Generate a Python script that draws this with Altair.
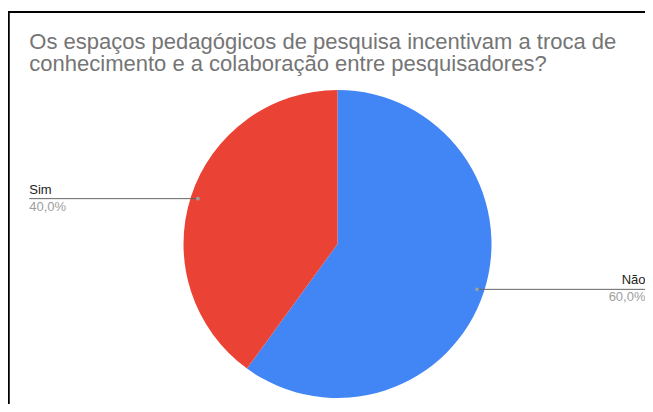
import altair as alt
import pandas as pd
import numpy as np

# ---- data ----
categories = ["Não", "Sim"]
values = [60, 40]
colors = ["#4285F4", "#EA4335"]
title_lines = [
    "Os espaços pedagógicos de pesquisa incentivam a troca de",
    "conhecimento e a colaboração entre pesquisadores?",
]

# ---- layout ----
W, H = 637, 396
CX, CY, R = 329.5, 236.0, 154.0
DOT_R = 0.953
LEFT_X, RIGHT_X = 21.3, 637.5

df = pd.DataFrame({"cat": categories, "val": values, "order": range(len(categories))})
total = df["val"].sum()
cum = df["val"].cumsum() - df["val"] / 2
mid = 2 * np.pi * cum / total
df["u"] = DOT_R * np.sin(mid)
df["w"] = DOT_R * np.cos(mid)
df["pct"] = (df["val"] / total * 100).map(lambda v: f"{v:.1f}".replace(".", ",") + "%")
df["right"] = df["u"] > 0
df["lx"] = np.where(df["right"], (RIGHT_X - CX) / R, (LEFT_X - CX) / R)

xs = alt.Scale(domain=[-CX / R, (W - CX) / R], range=[0, W], nice=False, zero=False)
ys = alt.Scale(domain=[-(H - CY) / R, CY / R], range=[H, 0], nice=False, zero=False)
X = lambda f: alt.X(f, type="quantitative", scale=xs, axis=None)
Y = lambda f: alt.Y(f, type="quantitative", scale=ys, axis=None)

FONT = "Liberation Sans"

pie = alt.Chart(df).mark_arc(outerRadius=R, stroke=None).encode(
    theta=alt.Theta("val:Q", stack=True),
    order=alt.Order("order:Q"),
    color=alt.Color("cat:N", scale=alt.Scale(domain=categories, range=colors), legend=None),
    x=alt.value(CX), y=alt.value(CY),
)

lines = alt.Chart(df).mark_rule(color="#666666", strokeWidth=1).encode(
    x=X("u"), x2=alt.X2("lx"), y=Y("w"),
)
dots = alt.Chart(df).mark_circle(size=14, color="#9e9e9e", opacity=1).encode(
    x=X("u"), y=Y("w"),
)

base_lbl = alt.Chart(df)
lbl_r = base_lbl.transform_filter("datum.right").mark_text(
    align="right", baseline="alphabetic", dy=-5, fontSize=13, font=FONT, color="#222222"
).encode(x=X("lx"), y=Y("w"), text="cat:N")
lbl_l = base_lbl.transform_filter("!datum.right").mark_text(
    align="left", baseline="alphabetic", dy=-5, fontSize=13, font=FONT, color="#222222"
).encode(x=X("lx"), y=Y("w"), text="cat:N")
pct_r = base_lbl.transform_filter("datum.right").mark_text(
    align="right", baseline="alphabetic", dy=12, fontSize=13, font=FONT, color="#9e9e9e"
).encode(x=X("lx"), y=Y("w"), text="pct:N")
pct_l = base_lbl.transform_filter("!datum.right").mark_text(
    align="left", baseline="alphabetic", dy=12, fontSize=13, font=FONT, color="#9e9e9e"
).encode(x=X("lx"), y=Y("w"), text="pct:N")

tdf = pd.DataFrame({"t": ["\n".join(title_lines)]})
title = alt.Chart(tdf).mark_text(
    align="left", baseline="alphabetic", fontSize=22, font=FONT, color="#757575",
    lineBreak="\n", lineHeight=22,
).encode(
    x=alt.value(21.3),
    y=alt.value(41),
    text="t:N",
)

border_top = alt.Chart(df).mark_rule(color="#000000", strokeWidth=2).encode(
    x=alt.value(0), x2=alt.value(W), y=alt.value(4)
)
border_left = alt.Chart(df).mark_rule(color="#000000", strokeWidth=2).encode(
    x=alt.value(0.5), y=alt.value(4), y2=alt.value(H)
)

chart = alt.layer(
    pie, lines, dots, lbl_r, lbl_l, pct_r, pct_l, title, border_top, border_left
).properties(
    width=W, height=H, autosize=alt.AutoSizeParams(type="none"), padding=0
).configure_view(stroke=None)

chart.save("out.html", embed_options={"renderer": "svg", "actions": False})
